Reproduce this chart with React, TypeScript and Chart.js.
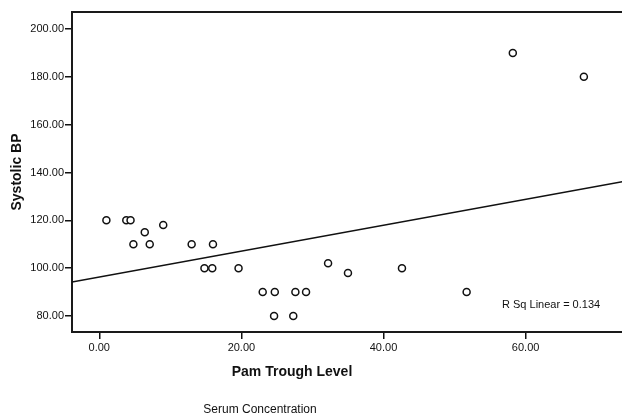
import React, { useEffect, useRef } from "react";
import { Chart, registerables } from "chart.js";

Chart.register(...registerables);

// Pam Trough Level (x) and Systolic BP (y)
const pamTrough: number[] = [
  1.0, 3.8, 4.4, 6.4, 9.0, 4.8, 7.1, 13.0, 16.0, 14.8, 15.9, 19.6,
  23.0, 24.7, 27.6, 29.1, 24.6, 27.3, 32.2, 35.0, 42.6, 51.7, 58.2, 68.2,
];
const systolicBP: number[] = [
  120, 120, 120, 115, 118, 110, 110, 110, 110, 100, 100, 100,
  90, 90, 90, 90, 80, 80, 102, 98, 100, 90, 190, 180,
];
const xTicks: number[] = [0, 20, 40, 60];
const yTicks: number[] = [80, 100, 120, 140, 160, 180, 200];
const xRange: number[] = [-3.84, 76.1];
const yRange: number[] = [73.3, 207.1];

const xTitle = "Pam Trough Level";
const yTitle = "Systolic BP";
const footer = "Serum Concentration";

const FONT = 'Arial, "Liberation Sans", Helvetica, sans-serif';

function linearFit(xs: number[], ys: number[]) {
  const n = xs.length;
  const mx = xs.reduce((a, b) => a + b, 0) / n;
  const my = ys.reduce((a, b) => a + b, 0) / n;
  let sxy = 0, sxx = 0, syy = 0;
  for (let i = 0; i < n; i++) {
    sxy += (xs[i] - mx) * (ys[i] - my);
    sxx += (xs[i] - mx) ** 2;
    syy += (ys[i] - my) ** 2;
  }
  const slope = sxy / sxx;
  return { slope, intercept: my - slope * mx, r2: (sxy * sxy) / (sxx * syy) };
}

export default function App() {
  const ref = useRef<HTMLCanvasElement | null>(null);

  useEffect(() => {
    if (!ref.current) return;
    const fit = linearFit(pamTrough, systolicBP);
    const linePts = xRange.map((x) => ({ x, y: fit.intercept + fit.slope * x }));

    const decor = {
      id: "decor",
      afterDraw(chart: any) {
        const ctx = chart.ctx;
        const a = chart.chartArea;
        ctx.save();
        // top border
        ctx.strokeStyle = "#1a1a1a";
        ctx.lineWidth = 2;
        ctx.beginPath();
        ctx.moveTo(a.left - 1, a.top);
        ctx.lineTo(a.right, a.top);
        ctx.stroke();
        ctx.fillStyle = "#111";
        ctx.textAlign = "center";
        ctx.textBaseline = "middle";
        ctx.font = `bold 14px ${FONT}`;
        ctx.fillText(xTitle, 292, 372);
        ctx.font = `12px ${FONT}`;
        ctx.fillText(footer, 260, 410);
        ctx.save();
        ctx.translate(17, 172);
        ctx.rotate(-Math.PI / 2);
        ctx.font = `bold 14px ${FONT}`;
        ctx.fillText(yTitle, 0, 0);
        ctx.restore();
        ctx.font = `11px ${FONT}`;
        ctx.textAlign = "left";
        ctx.fillText(`R Sq Linear = ${fit.r2.toFixed(3)}`, 502, 305);
        ctx.restore();
      },
    };

    const chart = new Chart(ref.current, {
      type: "scatter",
      data: {
        datasets: [
          {
            type: "scatter",
            data: pamTrough.map((x, i) => ({ x, y: systolicBP[i] })),
            pointRadius: 3.5,
            pointBorderWidth: 1.5,
            borderColor: "#111",
            backgroundColor: "#fff",
          },
          {
            type: "line",
            data: linePts,
            borderColor: "#111",
            borderWidth: 1.5,
            pointRadius: 0,
            fill: false,
          } as any,
        ],
      },
      options: {
        responsive: false,
        animation: false,
        layout: { padding: { top: 12, right: 10, left: 0, bottom: 0 } },
        plugins: { legend: { display: false }, tooltip: { enabled: false } },
        scales: {
          x: {
            type: "linear",
            min: xRange[0],
            max: xRange[1],
            afterBuildTicks: (s: any) => {
              s.ticks = xTicks.map((value) => ({ value }));
            },
            afterFit: (s: any) => {
              s.height = 84;
            },
            ticks: {
              callback: (v: any) => Number(v).toFixed(2),
              font: { family: FONT, size: 11 },
              color: "#111",
              padding: 2,
              maxRotation: 0,
            },
            grid: {
              drawOnChartArea: false,
              drawTicks: true,
              tickLength: 7,
              color: "#111",
              lineWidth: 1.5,
            },
            border: { display: true, color: "#1a1a1a", width: 2 },
          },
          y: {
            type: "linear",
            min: yRange[0],
            max: yRange[1],
            afterBuildTicks: (s: any) => {
              s.ticks = yTicks.map((value) => ({ value }));
            },
            afterFit: (s: any) => {
              s.width = 72;
            },
            ticks: {
              callback: (v: any) => Number(v).toFixed(2),
              font: { family: FONT, size: 11 },
              color: "#111",
              padding: 1,
            },
            grid: {
              drawOnChartArea: false,
              drawTicks: true,
              tickLength: 7,
              color: "#111",
              lineWidth: 1.5,
            },
            border: { display: true, color: "#1a1a1a", width: 2 },
          },
        },
      },
      plugins: [decor],
    });
    return () => chart.destroy();
  }, []);

  return (
    <div
      style={{
        position: "fixed",
        left: 0,
        top: 0,
        width: 622,
        height: 416,
        overflow: "hidden",
        background: "#fff",
      }}
    >
      <canvas ref={ref} width={650} height={416} style={{ display: "block" }} />
    </div>
  );
}
